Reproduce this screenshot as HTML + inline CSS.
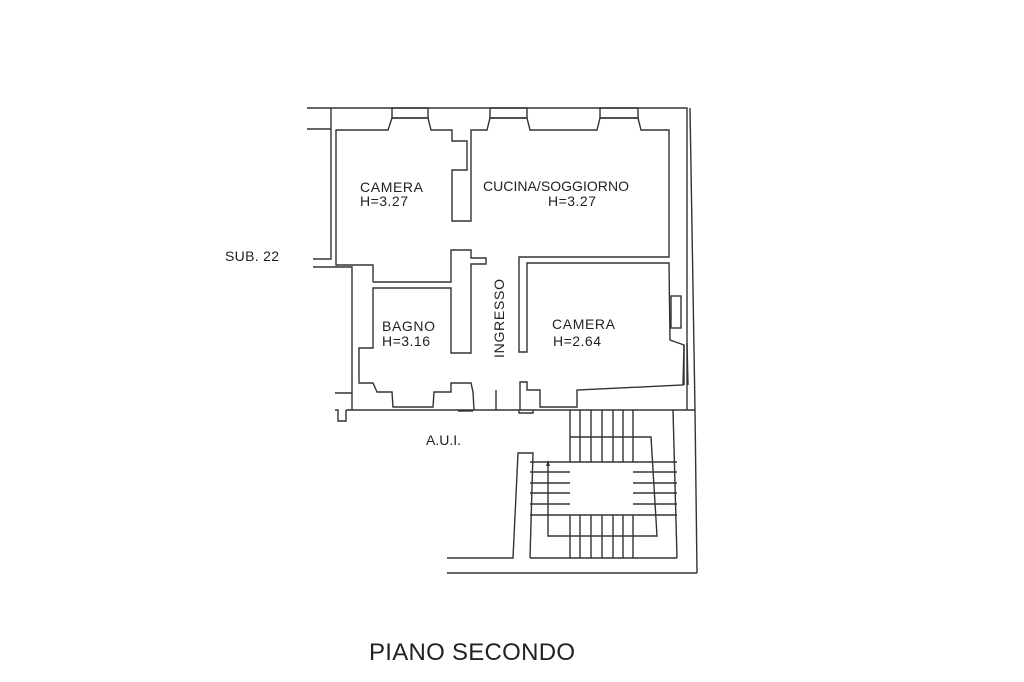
<!DOCTYPE html>
<html><head><meta charset="utf-8"><style>
html,body{margin:0;padding:0;background:#fff;}
svg{display:block}
text{font-family:"Liberation Sans",sans-serif;fill:#222}
</style></head><body>
<svg width="1024" height="682" viewBox="0 0 1024 682" xmlns="http://www.w3.org/2000/svg">
<g fill="none" stroke="#333" stroke-width="1.4">
<polyline points="307,108 687,108 687,410"/>
<line x1="307" y1="129" x2="331" y2="129"/>
<polyline points="331,108 331,259 313,259"/>
<polyline points="313,267 352,267 352,410"/>
<line x1="335" y1="393" x2="352" y2="393"/>
<polyline points="335,410 338,410 338,421 346,421 346,410"/>
<line x1="346" y1="410" x2="695" y2="410"/>
<rect x="392" y="108" width="36" height="10"/>
<rect x="490" y="108" width="37" height="10"/>
<rect x="600" y="108" width="38" height="10"/>
<polyline points="373,282 373,265 336,265 336,130 388,130 392,118 428,118 431,130 452,130 452,141 467,141 467,170 452,170 452,221 471,221 471,130 487,130 490,118 527,118 530,130 597,130 600,118 638,118 641,130 669,130 669,257 519,257 519,352 527,352 527,263 669,263 670,340 684,345 684,385"/>
<polyline points="373,282 451,282 451,250 471,250 471,258 486,258 486,264 471,264 471,353 451,353 451,288 373,288 373,348 359,348 359,383 373,383 377,392 392,392 393,407 433,407 434,392 451,392 451,383 471,383 473,392 474,410"/>
<line x1="496" y1="390" x2="496" y2="410"/>
<line x1="458" y1="411" x2="473" y2="411"/>
<polyline points="520,410 520,382 527,382 527,390 540,390 540,407 577,407 577,390 683,385 684,345"/>
<polyline points="519,410 519,413 533,413 533,410"/>
<rect x="671" y="296" width="10" height="32"/>
<line x1="687" y1="343" x2="688" y2="385"/>
<line x1="690" y1="108" x2="695" y2="410"/>
<polyline points="447,558 513,558 518,453 533,453 530,558"/>
<line x1="447" y1="573" x2="697" y2="573"/>
<line x1="695" y1="410" x2="697" y2="573"/>
<line x1="673" y1="410" x2="677" y2="558"/>
<line x1="530" y1="558" x2="677" y2="558"/>
<line x1="530" y1="462" x2="677" y2="462"/>
<line x1="530" y1="515" x2="677" y2="515"/>
<line x1="530" y1="472" x2="570" y2="472"/><line x1="530" y1="483" x2="570" y2="483"/><line x1="530" y1="493" x2="570" y2="493"/><line x1="530" y1="504" x2="570" y2="504"/>
<line x1="633" y1="472" x2="677" y2="472"/><line x1="633" y1="483" x2="677" y2="483"/><line x1="633" y1="493" x2="677" y2="493"/><line x1="633" y1="504" x2="677" y2="504"/>
<g>
<line x1="570" y1="410" x2="570" y2="462"/><line x1="580" y1="410" x2="580" y2="462"/><line x1="591" y1="410" x2="591" y2="462"/><line x1="602" y1="410" x2="602" y2="462"/><line x1="613" y1="410" x2="613" y2="462"/><line x1="623" y1="410" x2="623" y2="462"/><line x1="633" y1="410" x2="633" y2="462"/>
<line x1="570" y1="515" x2="570" y2="558"/><line x1="580" y1="515" x2="580" y2="558"/><line x1="591" y1="515" x2="591" y2="558"/><line x1="602" y1="515" x2="602" y2="558"/><line x1="613" y1="515" x2="613" y2="558"/><line x1="623" y1="515" x2="623" y2="558"/><line x1="633" y1="515" x2="633" y2="558"/>
</g>
<polyline points="548,463 548,536 657,536 651,437 570,437"/>
</g>
<polygon points="548,460 546,466 550,466" fill="#333"/>
<g font-size="14">
<text x="360" y="192" textLength="63">CAMERA</text>
<text x="360" y="206" textLength="48">H=3.27</text>
<text x="483" y="191" textLength="146">CUCINA/SOGGIORNO</text>
<text x="548" y="206" textLength="48">H=3.27</text>
<text x="382" y="331" textLength="53">BAGNO</text>
<text x="382" y="346" textLength="48">H=3.16</text>
<text x="552" y="329" textLength="63">CAMERA</text>
<text x="553" y="346" textLength="48">H=2.64</text>
<text x="225" y="261" textLength="54">SUB. 22</text>
<text x="426" y="445" textLength="35">A.U.I.</text>
<text transform="translate(504,358) rotate(-90)" textLength="79">INGRESSO</text>
</g>
<text x="369" y="660" font-size="24" textLength="206">PIANO SECONDO</text>
</svg>
</body></html>
